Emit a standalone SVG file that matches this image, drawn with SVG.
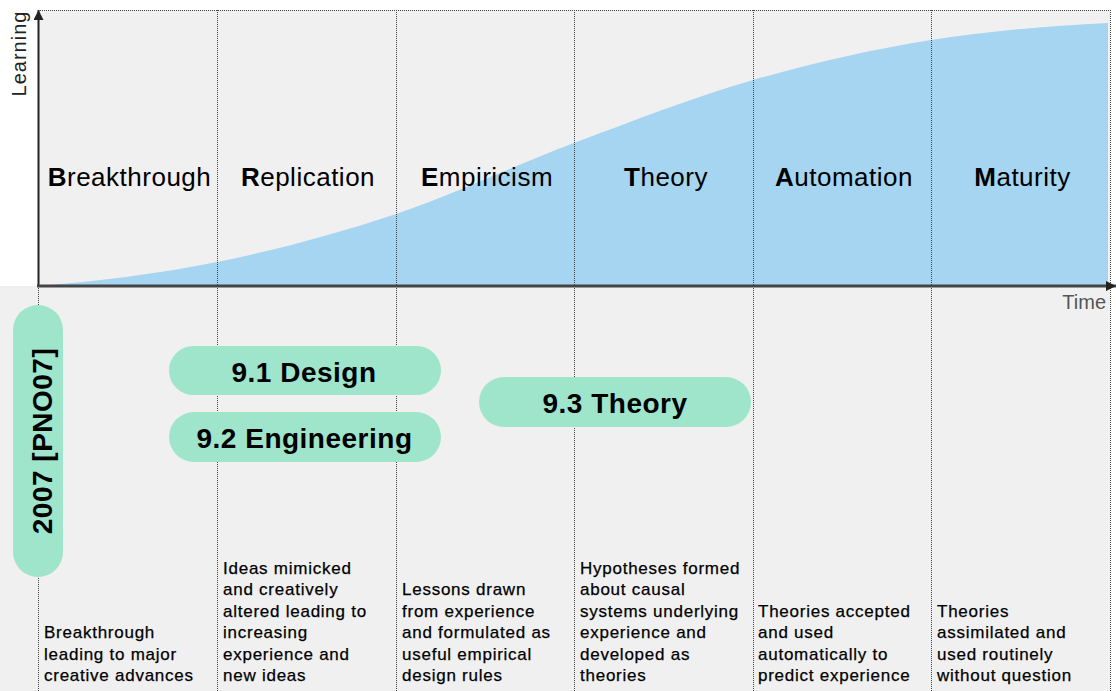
<svg xmlns="http://www.w3.org/2000/svg" width="1116" height="691" viewBox="0 0 1116 691">
<style>
.bg{fill:#f0f0f0}
.grid{stroke:#444;stroke-width:1;stroke-dasharray:1 1;fill:none}
.stage{font-family:"Liberation Sans",Arial,sans-serif;font-size:26px;fill:#000;text-anchor:middle;letter-spacing:0.5px}
.stage tspan.b{font-weight:bold}
.pill{fill:#9ee5cc}
.pt{font-family:"Liberation Sans",Arial,sans-serif;font-size:28px;font-weight:bold;fill:#000;text-anchor:middle;letter-spacing:0.5px}
.desc{font-family:"Liberation Sans",Arial,sans-serif;font-size:17px;fill:#000;stroke:#000;stroke-width:0.25px;letter-spacing:0.75px}
.axl{font-family:"Liberation Sans",Arial,sans-serif;font-size:20px;fill:#222}
</style>
<defs>
<marker id="ah" viewBox="0 0 10 10" refX="10" refY="5" markerWidth="10" markerHeight="10" markerUnits="userSpaceOnUse" orient="auto">
<path d="M0,0 L10,5 L0,10 Z" fill="#222"/>
</marker>
</defs>
<rect width="1116" height="691" fill="#ffffff"/>
<rect class="bg" x="38" y="10" width="1072" height="276"/>
<rect class="bg" x="0" y="286" width="1110" height="405"/>
<path id="curve" d="M38,286 C97.7,281.2 157.3,274 217,262 C276.7,250 336.3,233.9 396,214 C455.3,194.2 514.7,165.2 574,143 C633.7,120.6 693.3,97.3 753,80 C812.3,62.9 871.7,49.5 931,40 C990,30.5 1049,26 1108,23 L1108,286 L38,286 Z" fill="#a5d5f1"/>
<g id="grid">
<line class="grid" x1="38" y1="10.5" x2="1110" y2="10.5"/>
<line class="grid" x1="217.5" y1="10" x2="217.5" y2="691"/>
<line class="grid" x1="396.5" y1="10" x2="396.5" y2="691"/>
<line class="grid" x1="574.5" y1="10" x2="574.5" y2="691"/>
<line class="grid" x1="753.5" y1="10" x2="753.5" y2="691"/>
<line class="grid" x1="931.5" y1="10" x2="931.5" y2="691"/>
<line class="grid" x1="1110.5" y1="10" x2="1110.5" y2="691" stroke="#888"/>
<line class="grid" x1="38.5" y1="286" x2="38.5" y2="691"/>
</g>
<g id="axes">
<line x1="38.5" y1="287" x2="38.5" y2="10" stroke="#222" stroke-width="2" marker-end="url(#ah)"/>
<line x1="37" y1="286" x2="1116" y2="286" stroke="#444" stroke-width="3" marker-end="url(#ah)"/>
<text class="axl" transform="translate(26,53.5) rotate(-90)" text-anchor="middle" style="letter-spacing:1px">Learning</text>
<text class="axl" x="1106" y="309" text-anchor="end" style="fill:#555">Time</text>
</g>
<g id="stages">
<text class="stage" x="129.5" y="186"><tspan class="b">B</tspan>reakthrough</text>
<text class="stage" x="308" y="186"><tspan class="b">R</tspan>eplication</text>
<text class="stage" x="487" y="186"><tspan class="b">E</tspan>mpiricism</text>
<text class="stage" x="666" y="186"><tspan class="b">T</tspan>heory</text>
<text class="stage" x="844" y="186"><tspan class="b">A</tspan>utomation</text>
<text class="stage" x="1022.5" y="186"><tspan class="b">M</tspan>aturity</text>
</g>
<g id="pno07">
<rect class="pill" x="13" y="305" width="50" height="272" rx="25"/>
<text class="pt" transform="translate(52,441) rotate(-90)">2007 [PNO07]</text>
</g>
<g id="design">
<rect class="pill" x="169" y="346" width="272" height="49" rx="24.5"/>
<text class="pt" x="304" y="381.5">9.1 Design</text>
</g>
<g id="engineering">
<rect class="pill" x="169" y="412" width="272" height="50" rx="25"/>
<text class="pt" x="304.5" y="447.5">9.2 Engineering</text>
</g>
<g id="theory">
<rect class="pill" x="479" y="377" width="272" height="50" rx="25"/>
<text class="pt" x="615" y="413">9.3 Theory</text>
</g>
<g id="descriptions">
<text class="desc"><tspan x="44" y="638">Breakthrough</tspan><tspan x="44" y="659.5">leading to major</tspan><tspan x="44" y="681">creative advances</tspan></text>
<text class="desc"><tspan x="223" y="573.5">Ideas mimicked</tspan><tspan x="223" y="595">and creatively</tspan><tspan x="223" y="616.5">altered leading to</tspan><tspan x="223" y="638">increasing</tspan><tspan x="223" y="659.5">experience and</tspan><tspan x="223" y="681">new ideas</tspan></text>
<text class="desc"><tspan x="402" y="595">Lessons drawn</tspan><tspan x="402" y="616.5">from experience</tspan><tspan x="402" y="638">and formulated as</tspan><tspan x="402" y="659.5">useful empirical</tspan><tspan x="402" y="681">design rules</tspan></text>
<text class="desc"><tspan x="580" y="573.5">Hypotheses formed</tspan><tspan x="580" y="595">about causal</tspan><tspan x="580" y="616.5">systems underlying</tspan><tspan x="580" y="638">experience and</tspan><tspan x="580" y="659.5">developed as</tspan><tspan x="580" y="681">theories</tspan></text>
<text class="desc"><tspan x="758" y="616.5">Theories accepted</tspan><tspan x="758" y="638">and used</tspan><tspan x="758" y="659.5">automatically to</tspan><tspan x="758" y="681">predict experience</tspan></text>
<text class="desc"><tspan x="937" y="616.5">Theories</tspan><tspan x="937" y="638">assimilated and</tspan><tspan x="937" y="659.5">used routinely</tspan><tspan x="937" y="681">without question</tspan></text>
</g>
</svg>
